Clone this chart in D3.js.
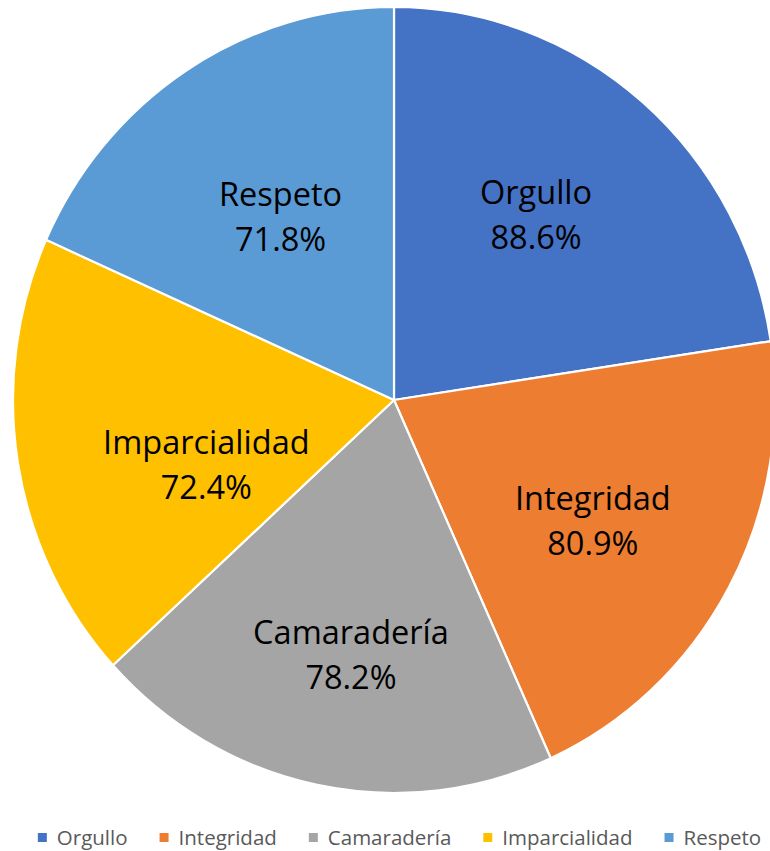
<!DOCTYPE html>
<html>
<head>
<meta charset="utf-8">
<script src="https://cdn.jsdelivr.net/npm/d3@7"></script>
<style>
  html, body { margin: 0; padding: 0; background: #fff; }
  svg { display: block; }
</style>
</head>
<body>
<svg id="chart" width="770" height="851"></svg>
<script>
const categories = ["Orgullo", "Integridad", "Camaradería", "Imparcialidad", "Respeto"];
const values = [88.6, 80.9, 78.2, 72.4, 71.8];
const valueLabels = ["88.6%", "80.9%", "78.2%", "72.4%", "71.8%"];
const colors = ["#4472C4", "#ED7D31", "#A5A5A5", "#FFC000", "#5B9BD5"];

// layout only: manual data-label nudges (like Excel's dragged labels), in px
const labelNudge = [[-7, -6], [-2, 8], [3, 24], [38, 27], [11, 15]];

const svg = d3.select("#chart");
const W = 770, H = 851;
const cx = 394, cy = 400;
const ry = 393, rx = 381;
const sx = rx / ry;

const data = categories.map((c, i) => ({ name: c, value: values[i], label: valueLabels[i], color: colors[i], i }));
const pie = d3.pie().sort(null).value(d => d.value);
const arcs = pie(data);
const arc = d3.arc().innerRadius(0).outerRadius(ry);
const labelArc = d3.arc().innerRadius(ry * 0.6).outerRadius(ry * 0.6);

const g = svg.append("g").attr("transform", `translate(${cx},${cy}) scale(${sx},1)`);
g.selectAll("path").data(arcs).join("path")
  .attr("d", arc)
  .attr("fill", d => d.data.color)
  .attr("stroke", "#fff")
  .attr("stroke-width", 2.2)
  .attr("vector-effect", "non-scaling-stroke")
  .attr("stroke-linejoin", "round");

const lg = svg.append("g").attr("transform", `translate(${cx},${cy})`);
const lab = lg.selectAll("g.lab").data(arcs).join("g").attr("class", "lab")
  .attr("transform", d => {
    const [x, y] = labelArc.centroid(d);
    const n = labelNudge[d.data.i];
    return `translate(${x * sx + n[0]},${y + n[1]})`;
  });
lab.append("text")
  .attr("text-anchor", "middle")
  .attr("y", -22.5).attr("dy", "0.36em")
  .style("font-family", "'Open Sans', sans-serif")
  .style("font-size", "32.5px")
  .attr("fill", "#000")
  .text(d => d.data.name);
lab.append("text")
  .attr("text-anchor", "middle")
  .attr("y", 22.5).attr("dy", "0.36em")
  .style("font-family", "'Open Sans', sans-serif")
  .style("font-size", "32.5px")
  .attr("fill", "#000")
  .text(d => d.data.label);

// legend
const leg = svg.append("g");
const items = leg.selectAll("g").data(data).join("g");
items.append("rect").attr("width", 9).attr("height", 9).attr("y", -4.5).attr("fill", d => d.color);
items.append("text").attr("x", 19).attr("y", 0).attr("dy", "0.36em")
  .style("font-family", "'Open Sans', sans-serif").style("font-size", "20.5px")
  .attr("fill", "#595959").text(d => d.name);
let x = 0;
const gap = 32;
items.each(function () {
  const w = this.getBBox().width;
  d3.select(this).attr("transform", `translate(${x},0)`);
  x += w + gap;
});
const total = x - gap;
leg.attr("transform", `translate(${399.5 - total / 2},837.5)`);
</script>
</body>
</html>
